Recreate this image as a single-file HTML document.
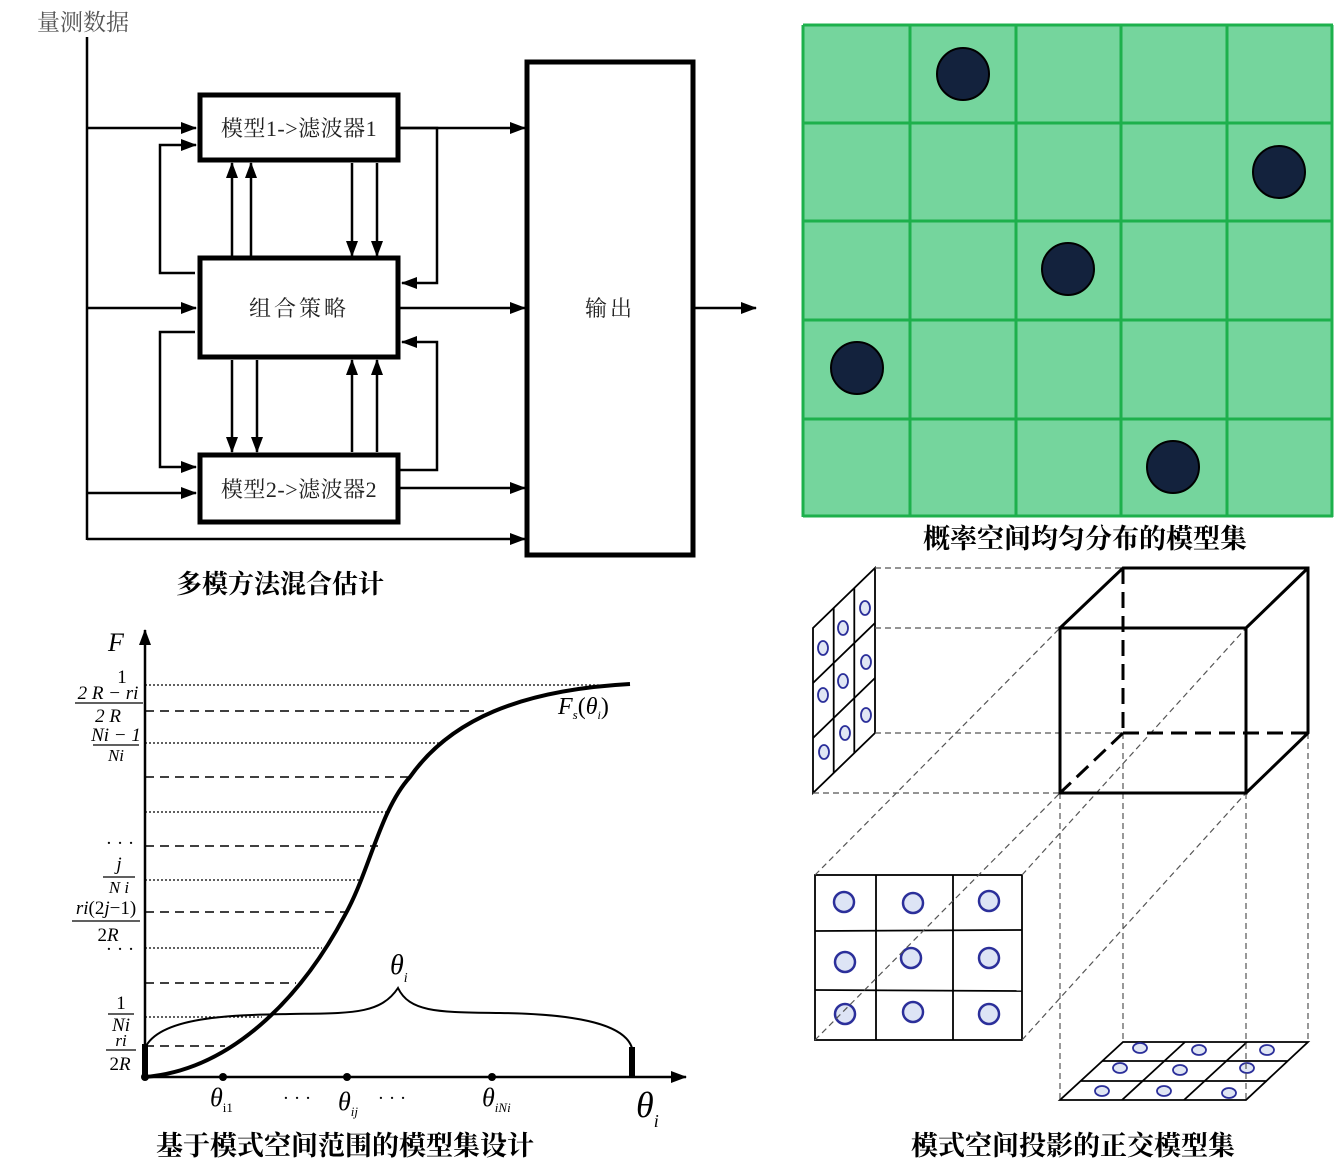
<!DOCTYPE html>
<html><head><meta charset="utf-8"><style>
html,body{margin:0;padding:0;background:#fff}
svg{display:block}
.cj{font-family:"Liberation Serif","Noto Serif CJK SC",serif}
.m{font-family:"Liberation Serif",serif;font-style:italic}
</style></head><body>
<svg width="1335" height="1173" viewBox="0 0 1335 1173" xmlns="http://www.w3.org/2000/svg">
<defs>
<marker id="b" markerWidth="16" markerHeight="12" refX="15" refY="6" orient="auto" markerUnits="userSpaceOnUse"><path d="M0,0 L16,6 L0,12z" fill="#000"/></marker>
</defs>

<!-- ===== Block diagram ===== -->
<text x="37" y="30" class="cj" font-size="23" fill="#555">量测数据</text>
<g stroke="#000" stroke-width="2.5" fill="none">
<line x1="87" y1="37" x2="87" y2="540"/>
<line x1="87" y1="128" x2="196" y2="128" marker-end="url(#b)"/>
<polyline points="195,273 160,273 160,145 196,145" marker-end="url(#b)"/>
<line x1="87" y1="308" x2="196" y2="308" marker-end="url(#b)"/>
<polyline points="195,332 160,332 160,467 196,467" marker-end="url(#b)"/>
<line x1="87" y1="493" x2="196" y2="493" marker-end="url(#b)"/>
<line x1="87" y1="539" x2="525" y2="539" marker-end="url(#b)"/>
<line x1="232" y1="256" x2="232" y2="163" marker-end="url(#b)"/>
<line x1="251" y1="256" x2="251" y2="163" marker-end="url(#b)"/>
<line x1="352" y1="163" x2="352" y2="256" marker-end="url(#b)"/>
<line x1="377" y1="163" x2="377" y2="256" marker-end="url(#b)"/>
<line x1="232" y1="360" x2="232" y2="452" marker-end="url(#b)"/>
<line x1="257" y1="360" x2="257" y2="452" marker-end="url(#b)"/>
<line x1="352" y1="452" x2="352" y2="360" marker-end="url(#b)"/>
<line x1="377" y1="452" x2="377" y2="360" marker-end="url(#b)"/>
<line x1="400" y1="128" x2="525" y2="128" marker-end="url(#b)"/>
<polyline points="400,128 437,128 437,283 402,283" marker-end="url(#b)"/>
<line x1="400" y1="308" x2="525" y2="308" marker-end="url(#b)"/>
<polyline points="400,470 437,470 437,342 402,342" marker-end="url(#b)"/>
<line x1="400" y1="488" x2="525" y2="488" marker-end="url(#b)"/>
<line x1="695" y1="308" x2="756" y2="308" marker-end="url(#b)"/>
</g>
<g stroke="#000" stroke-width="5" fill="#fff">
<rect x="200" y="95" width="198" height="65"/>
<rect x="200" y="258" width="198" height="99"/>
<rect x="200" y="455" width="198" height="67"/>
<rect x="527" y="62" width="166" height="493"/>
</g>
<g class="cj" font-size="22" fill="#222" text-anchor="middle">
<text x="299" y="136" letter-spacing="0.5">模型1-&gt;滤波器1</text>
<text x="299" y="316" letter-spacing="3">组合策略</text>
<text x="299" y="497" letter-spacing="0.5">模型2-&gt;滤波器2</text>
<text x="610" y="316" letter-spacing="3">输出</text>
</g>
<text x="280" y="593" class="cj" font-size="26" font-weight="bold" text-anchor="middle">多模方法混合估计</text>

<!-- ===== Green grid ===== -->
<rect x="803" y="25" width="530" height="492" fill="#75d59d"/>
<g stroke="#1db04c" stroke-width="3">
<line x1="803" y1="25" x2="803" y2="517"/><line x1="910" y1="25" x2="910" y2="517"/><line x1="1016" y1="25" x2="1016" y2="517"/><line x1="1121" y1="25" x2="1121" y2="517"/><line x1="1227" y1="25" x2="1227" y2="517"/><line x1="1332" y1="25" x2="1332" y2="517"/>
<line x1="803" y1="25" x2="1333" y2="25"/><line x1="803" y1="123" x2="1333" y2="123"/><line x1="803" y1="221" x2="1333" y2="221"/><line x1="803" y1="320" x2="1333" y2="320"/><line x1="803" y1="419" x2="1333" y2="419"/><line x1="803" y1="516" x2="1333" y2="516"/>
</g>
<g fill="#13223d" stroke="#000" stroke-width="2">
<circle cx="963" cy="74" r="26"/><circle cx="1279" cy="172" r="26"/><circle cx="1068" cy="269" r="26"/><circle cx="857" cy="368" r="26"/><circle cx="1173" cy="467" r="26"/>
</g>
<text x="1085" y="548" class="cj" font-size="27" font-weight="bold" text-anchor="middle">概率空间均匀分布的模型集</text>

<!-- ===== Graph ===== -->
<g stroke="#000" stroke-width="1.3" stroke-dasharray="2,2">
<line x1="145" y1="685" x2="600" y2="685"/><line x1="145" y1="743" x2="440" y2="743"/><line x1="145" y1="812" x2="390" y2="812"/><line x1="145" y1="880" x2="360" y2="880"/><line x1="145" y1="948" x2="322" y2="948"/><line x1="145" y1="1017" x2="262" y2="1017"/>
</g>
<g stroke="#000" stroke-width="1.5" stroke-dasharray="9,6">
<line x1="145" y1="711" x2="490" y2="711"/><line x1="145" y1="777" x2="410" y2="777"/><line x1="145" y1="846" x2="378" y2="846"/><line x1="145" y1="912" x2="346" y2="912"/><line x1="145" y1="983" x2="296" y2="983"/><line x1="145" y1="1046" x2="225" y2="1046"/>
</g>
<g stroke="#000" fill="none">
<line x1="145" y1="1077" x2="145" y2="630" stroke-width="2.5" marker-end="url(#b)"/>
<line x1="145" y1="1077" x2="686" y2="1077" stroke-width="2.5" marker-end="url(#b)"/>
<path d="M145,1077 C230,1070 300,1000 345,915 C370,870 380,810 410,777 C450,720 520,690 630,684" stroke-width="4"/>
<path d="M145,1048 C160,1015 240,1015 290,1014 C350,1013 380,1015 398,988 C410,1013 440,1012 500,1013 C580,1014 625,1025 632,1048" stroke-width="2"/>
<line x1="145" y1="1044" x2="145" y2="1077" stroke-width="6"/>
<line x1="632" y1="1047" x2="632" y2="1077" stroke-width="6"/>
</g>
<g fill="#000"><circle cx="223" cy="1077" r="4"/><circle cx="347" cy="1077" r="4"/><circle cx="492" cy="1077" r="4"/><circle cx="145" cy="1077" r="4"/></g>
<g class="m" fill="#000">
<text x="108" y="651" font-size="26">F</text>
<text x="558" y="714" font-size="24">F<tspan font-size="13" dy="5">s</tspan><tspan dy="-5" font-style="normal">(</tspan>θ<tspan font-size="12" dy="5">i</tspan><tspan dy="-5" font-style="normal">)</tspan></text>
<text x="390" y="974" font-size="28">θ<tspan font-size="14" dy="8">i</tspan></text>
<text x="636" y="1117" font-size="36">θ<tspan font-size="18" dy="10">i</tspan></text>
<text x="210" y="1106" font-size="26">θ<tspan font-size="13" dy="6" font-style="normal">i1</tspan></text>
<text x="338" y="1110" font-size="26">θ<tspan font-size="13" dy="6">ij</tspan></text>
<text x="482" y="1106" font-size="26">θ<tspan font-size="13" dy="6">iNi</tspan></text>
</g>
<g font-family="Liberation Serif,serif" font-size="19" fill="#000" text-anchor="middle">
<text x="297" y="1104">· · ·</text><text x="392" y="1104">· · ·</text>
<text x="122" y="683">1</text>
<text x="108" y="699"><tspan font-style="italic">2 R − ri</tspan></text>
<line x1="75" y1="703" x2="143" y2="703" stroke="#000" stroke-width="1.2"/>
<text x="108" y="722" font-style="italic">2 R</text>
<text x="116" y="741" font-style="italic">Ni − 1</text>
<line x1="93" y1="745" x2="139" y2="745" stroke="#000" stroke-width="1.2"/>
<text x="116" y="761" font-style="italic" font-size="17">Ni</text>
<text x="120" y="849">· · ·</text>
<text x="119" y="870" font-style="italic">j</text>
<line x1="103" y1="877" x2="135" y2="877" stroke="#000" stroke-width="1.2"/>
<text x="119" y="893" font-style="italic" font-size="17">N i</text>
<text x="106" y="914"><tspan font-style="italic">ri</tspan>(2<tspan font-style="italic">j</tspan>−1)</text>
<line x1="72" y1="921" x2="140" y2="921" stroke="#000" stroke-width="1.2"/>
<text x="108" y="941">2<tspan font-style="italic">R</tspan></text>
<text x="120" y="955">· · ·</text>
<text x="121" y="1009">1</text>
<line x1="108" y1="1014" x2="134" y2="1014" stroke="#000" stroke-width="1.2"/>
<text x="121" y="1031" font-style="italic">Ni</text>
<text x="121" y="1046" font-style="italic" font-size="17">ri</text>
<line x1="106" y1="1050" x2="136" y2="1050" stroke="#000" stroke-width="1.2"/>
<text x="120" y="1070">2<tspan font-style="italic">R</tspan></text>
</g>
<text x="345" y="1155" class="cj" font-size="27" font-weight="bold" text-anchor="middle">基于模式空间范围的模型集设计</text>

<!-- ===== Cube projection ===== -->
<!-- side panel -->
<g stroke="#000" stroke-width="1.8" fill="#fff">
<polygon points="813,628 875,568 875,733 813,793"/>
<line x1="833.7" y1="608" x2="833.7" y2="773"/><line x1="854.3" y1="588" x2="854.3" y2="753"/>
<line x1="813" y1="683" x2="875" y2="623"/><line x1="813" y1="738" x2="875" y2="678"/>
</g>
<g stroke="#2b2f9a" stroke-width="1.8" fill="#e0e6f4">
<ellipse cx="823" cy="648" rx="5" ry="7"/><ellipse cx="823" cy="695" rx="5" ry="7"/><ellipse cx="824" cy="752" rx="5" ry="7"/>
<ellipse cx="843" cy="628" rx="5" ry="7"/><ellipse cx="843" cy="681" rx="5" ry="7"/><ellipse cx="845" cy="733" rx="5" ry="7"/>
<ellipse cx="865" cy="608" rx="5" ry="7"/><ellipse cx="866" cy="662" rx="5" ry="7"/><ellipse cx="866" cy="715" rx="5" ry="7"/>
</g>
<!-- front panel -->
<g stroke="#000" stroke-width="1.8" fill="none">
<rect x="815" y="875" width="207" height="165"/>
<line x1="876" y1="875" x2="876" y2="1040"/><line x1="953" y1="875" x2="953" y2="1040"/>
<line x1="815" y1="931" x2="1022" y2="930"/><line x1="815" y1="990" x2="1022" y2="991"/>
</g>
<g stroke="#2b2f9a" stroke-width="2.5" fill="#dde4f5">
<circle cx="844" cy="902" r="10"/><circle cx="913" cy="903" r="10"/><circle cx="989" cy="901" r="10"/>
<circle cx="845" cy="962" r="10"/><circle cx="911" cy="958" r="10"/><circle cx="989" cy="958" r="10"/>
<circle cx="845" cy="1014" r="10"/><circle cx="913" cy="1012" r="10"/><circle cx="989" cy="1014" r="10"/>
</g>
<!-- bottom panel -->
<g stroke="#000" stroke-width="1.8" fill="#fff">
<polygon points="1060,1100 1246,1100 1308,1042 1123,1042"/>
<line x1="1122" y1="1100" x2="1185" y2="1042"/><line x1="1184" y1="1100" x2="1247" y2="1042"/>
<line x1="1081" y1="1081" x2="1267" y2="1081"/><line x1="1102" y1="1061" x2="1288" y2="1061"/>
</g>
<g stroke="#2b2f9a" stroke-width="1.8" fill="#e0e6f4">
<ellipse cx="1102" cy="1091" rx="7" ry="5"/><ellipse cx="1164" cy="1091" rx="7" ry="5"/><ellipse cx="1229" cy="1093" rx="7" ry="5"/>
<ellipse cx="1120" cy="1068" rx="7" ry="5"/><ellipse cx="1180" cy="1070" rx="7" ry="5"/><ellipse cx="1247" cy="1068" rx="7" ry="5"/>
<ellipse cx="1140" cy="1048" rx="7" ry="5"/><ellipse cx="1199" cy="1050" rx="7" ry="5"/><ellipse cx="1267" cy="1050" rx="7" ry="5"/>
</g>
<g stroke="#555" stroke-width="1.2" stroke-dasharray="6,4" fill="none">
<line x1="875" y1="568" x2="1123" y2="568"/>
<line x1="875" y1="628" x2="1060" y2="628"/>
<line x1="875" y1="733" x2="1123" y2="733"/>
<line x1="813" y1="793" x2="1060" y2="793"/>
<line x1="815" y1="875" x2="1060" y2="628"/>
<line x1="1022" y1="875" x2="1246" y2="628"/>
<line x1="815" y1="1040" x2="1060" y2="793"/>
<line x1="1022" y1="1040" x2="1246" y2="793"/>
<line x1="1060" y1="793" x2="1060" y2="1100"/>
<line x1="1246" y1="793" x2="1246" y2="1100"/>
<line x1="1123" y1="733" x2="1123" y2="1042"/>
<line x1="1308" y1="733" x2="1308" y2="1042"/>
</g>
<g stroke="#000" stroke-width="3" fill="none">
<line x1="1123" y1="568" x2="1123" y2="733" stroke-dasharray="16,8"/>
<line x1="1123" y1="733" x2="1308" y2="733" stroke-dasharray="16,8"/>
<line x1="1123" y1="733" x2="1060" y2="793" stroke-dasharray="16,8"/>
<rect x="1060" y="628" width="186" height="165"/>
<polyline points="1060,628 1123,568 1308,568 1308,733 1246,793"/>
<line x1="1246" y1="628" x2="1308" y2="568"/>
</g>
<text x="1073" y="1155" class="cj" font-size="27" font-weight="bold" text-anchor="middle">模式空间投影的正交模型集</text>
</svg>
</body></html>
